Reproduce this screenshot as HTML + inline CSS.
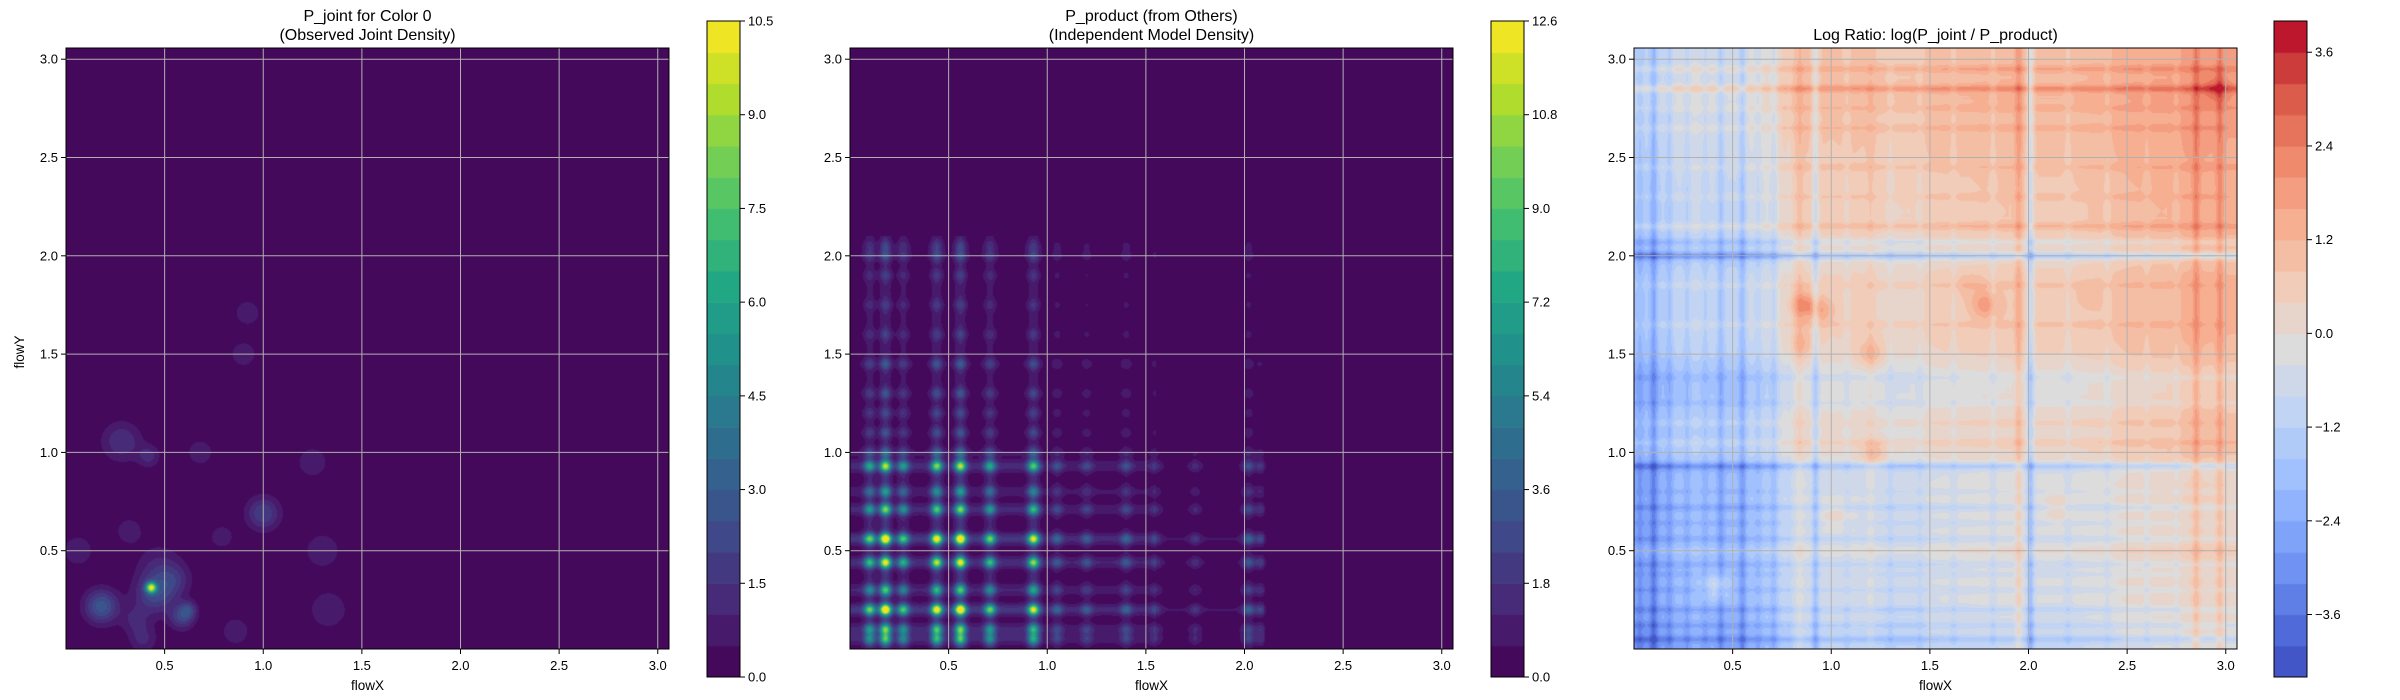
<!DOCTYPE html>
<html><head><meta charset="utf-8">
<style>
body{margin:0;background:#fff;width:2400px;height:700px;overflow:hidden;position:relative;font-family:"Liberation Sans","DejaVu Sans",sans-serif}
canvas{position:absolute}
svg{position:absolute;left:0;top:0}
</style></head>
<body>
<canvas id="c1" width="603" height="601" style="left:66px;top:48px"></canvas>
<canvas id="c2" width="603" height="601" style="left:850px;top:48px"></canvas>
<canvas id="c3" width="603" height="601" style="left:1634px;top:48px"></canvas>
<canvas id="b1" width="33" height="656" style="left:707px;top:21px"></canvas>
<canvas id="b2" width="33" height="656" style="left:1491px;top:21px"></canvas>
<canvas id="b3" width="33" height="656" style="left:2274px;top:21px"></canvas>
<svg id="ov" width="2400" height="700"></svg>
<script>
// ---- Panel 1 data: observed joint density blobs ----
const blobX   = [0.432,0.45,0.18,0.588,0.62,0.282,0.42,1.0,1.3,1.33,0.92,0.9,0.68,1.25,0.06,0.32,0.79,0.39,0.86,0.47,0.35,0.55];
const blobY   = [0.312,0.28,0.217,0.163,0.2,1.056,0.98,0.69,0.5,0.2,1.71,1.5,1.0,0.95,0.5,0.6,0.57,0.05,0.09,0.42,0.15,0.35];
const blobAmp = [8.5,2.2,2.8,2.0,1.6,1.5,1.2,2.0,0.9,1.0,0.9,0.9,0.9,0.9,0.9,0.9,0.8,1.1,1.0,1.0,1.0,1.2];
const blobSig = [0.018,0.07,0.06,0.045,0.03,0.07,0.04,0.06,0.07,0.07,0.05,0.05,0.05,0.06,0.06,0.05,0.05,0.05,0.05,0.08,0.05,0.06];
// ---- Panel 2 data: marginal peaks ----
const pxCenters = [0.10,0.18,0.27,0.44,0.56,0.71,0.93,1.05,1.2,1.4,1.55,1.75,2.02,2.08];
const pxHeights = [2.0,3.3,1.8,2.9,3.3,2.0,2.6,0.7,0.6,0.7,0.4,0.35,0.9,0.5];
const pyCenters = [0.05,0.10,0.20,0.30,0.44,0.56,0.71,0.80,0.93,1.0,1.1,1.2,1.3,1.45,1.6,1.75,1.9,2.0,2.05];
const pyHeights = [2.0,2.2,3.6,2.0,3.0,3.6,2.3,1.4,2.6,0.9,0.6,0.5,0.6,0.7,0.4,0.35,0.35,0.6,0.4];
// ---- Panel 3 data: log ratio column/row effects ----
const colBase = [-1.8,-1.8,-1.3,-1.1,-1.2,-1.3,-1.0,-0.7,0.1,0.2,0.1,0.2,0.1,0.0,0.0,0.2,0.3,0.3,0.4,0.4,0.3,0.3,0.3,0.4,0.5,0.7,0.8,0.8,1.0,1.0,0.9];
const rowBase = [-1.2,-0.9,-0.7,-0.6,-0.6,-0.5,-0.6,-0.6,-0.5,-0.7,0.0,-0.1,-0.1,-0.4,-0.4,0.1,0.3,0.3,0.3,0.3,-0.2,0.3,0.4,0.4,0.5,0.6,0.7,0.7,0.9,0.8,0.7];
const colStripePos = [0.03,0.1,0.18,0.27,0.36,0.44,0.55,0.63,0.71,0.79,0.92,1.08,1.3,1.45,1.62,1.82,1.95,2.01,2.2,2.4,2.6,2.75,2.85,2.97,0.84,1.2];
const colStripeAmp = [-0.5,-1.0,-0.6,-0.5,-0.4,-0.8,-1.0,-0.4,-0.6,-0.3,-1.2,-0.3,-0.3,-0.3,-0.3,-0.4,0.8,-1.4,-0.3,-0.3,-0.3,-0.3,0.8,0.8,0.4,0.3];
const rowStripePos = [0.05,0.12,0.2,0.3,0.38,0.43,0.56,0.64,0.72,0.8,0.93,1.15,1.25,1.38,1.65,1.85,2.0,2.07,2.15,2.3,2.45,2.65,2.75,2.85,2.95,1.05,0.5];
const rowStripeAmp = [-0.8,-0.5,-0.6,-0.4,-0.3,-0.5,-0.5,-0.3,-0.6,-0.3,-1.2,0.3,-0.3,-0.3,0.3,0.3,-1.4,-0.6,0.6,0.3,0.3,0.4,0.3,1.0,0.6,0.4,0.3];
const spotX = [0.86,0.95,1.78,1.2,1.22,0.42,1.02,2.15,0.85,2.95,1.7,2.3];
const spotY = [1.75,1.72,1.75,1.5,0.99,0.32,0.68,0.72,1.55,2.85,1.85,1.8];
const spotAmp = [1.5,1.0,1.2,1.0,1.0,1.2,0.8,0.8,0.8,1.0,0.4,0.3];
// ---- ticks ----
const axisTicks = [0.5,1.0,1.5,2.0,2.5,3.0];
const cb1Ticks = [0,1.5,3.0,4.5,6.0,7.5,9.0,10.5];
const cb2Ticks = [0,1.8,3.6,5.4,7.2,9.0,10.8,12.6];
const cb3Ticks = [-3.6,-2.4,-1.2,0.0,1.2,2.4,3.6];

const W=603,H=601,XMAX=3.057,YMAX=3.057;
function sx(v){return v/XMAX*W;}
function sy(v){return H - v/YMAX*H;}
function hex(h){return [parseInt(h.substr(1,2),16),parseInt(h.substr(3,2),16),parseInt(h.substr(5,2),16)];}
function mkmap(stops){const c=stops.map(hex);return t=>{t=Math.max(0,Math.min(1,t));const p=t*(c.length-1),i=Math.min(c.length-2,Math.floor(p)),f=p-i;return [0,1,2].map(k=>Math.round(c[i][k]+(c[i+1][k]-c[i][k])*f));};}
const viridis=mkmap(['#440154','#482475','#414487','#355f8d','#2a788e','#21918c','#22a884','#44bf70','#7ad151','#bddf26','#fde725']);
const coolwarm=mkmap(['#3b4cc0','#5977e3','#7b9ff9','#9ebeff','#c0d4f5','#dddcdc','#f2cbb7','#f7ac8e','#ee8468','#d65244','#b40426']);
function bandColor(map,v,lo,step){let b=Math.floor((v-lo)/step);b=Math.max(0,Math.min(20,b));return map((b+0.5)/21);}
function render(id,fn,map,lo,step){
  const cv=document.getElementById(id),ctx=cv.getContext('2d'),img=ctx.createImageData(W,H);
  for(let j=0;j<H;j++){const y=(H-j-0.5)/H*YMAX;for(let i=0;i<W;i++){const x=(i+0.5)/W*XMAX;const c=bandColor(map,fn(x,y,i,j),lo,step);const o=(j*W+i)*4;img.data[o]=c[0];img.data[o+1]=c[1];img.data[o+2]=c[2];img.data[o+3]=255;}}
  ctx.putImageData(img,0,0);
}
function g(d,s){return Math.exp(-d*d/(2*s*s));}
// Panel 1
render('c1',(x,y)=>{let s=0;for(let k=0;k<blobX.length;k++){const dx=x-blobX[k],dy=y-blobY[k];s+=blobAmp[k]*Math.exp(-(dx*dx+dy*dy)/(2*blobSig[k]*blobSig[k]));}return s;},viridis,0,0.5);
// Panel 2
const PX=new Float32Array(W),PY=new Float32Array(H);
for(let i=0;i<W;i++){const x=(i+0.5)/W*XMAX;let s=x<0.98?0.5:(x<1.55?0.35:(x<2.1?0.15:0));for(let k=0;k<pxCenters.length;k++)s+=pxHeights[k]*g(x-pxCenters[k],0.02);PX[i]=s;}
for(let j=0;j<H;j++){const y=(H-j-0.5)/H*YMAX;let s=y<1.0?0.5:(y<2.1?0.3:0);for(let k=0;k<pyCenters.length;k++)s+=pyHeights[k]*g(y-pyCenters[k],0.02);PY[j]=s;}
render('c2',(x,y,i,j)=>PX[i]*PY[j],viridis,0,0.6);
// Panel 3
function interp(arr,v){const p=v/0.1,i=Math.max(0,Math.min(arr.length-2,Math.floor(p))),f=Math.min(1,p-i);return arr[i]+(arr[i+1]-arr[i])*f;}
const CX=new Float32Array(W),RY=new Float32Array(H);
for(let i=0;i<W;i++){const x=(i+0.5)/W*XMAX;let s=interp(colBase,x);for(let k=0;k<colStripePos.length;k++)s+=colStripeAmp[k]*g(x-colStripePos[k],0.013);CX[i]=s;}
for(let j=0;j<H;j++){const y=(H-j-0.5)/H*YMAX;let s=interp(rowBase,y);for(let k=0;k<rowStripePos.length;k++)s+=rowStripeAmp[k]*g(y-rowStripePos[k],0.013);RY[j]=s;}
render('c3',(x,y,i,j)=>{let s=CX[i]+RY[j];for(let k=0;k<spotX.length;k++){const dx=x-spotX[k],dy=y-spotY[k];s+=spotAmp[k]*Math.exp(-(dx*dx+dy*dy)/(2*0.05*0.05));}return s;},coolwarm,-4.4,0.4);
// Colorbars
function cbar(id,map){const cv=document.getElementById(id),ctx=cv.getContext('2d');const h=656/21;for(let b=0;b<21;b++){const c=map((b+0.5)/21);ctx.fillStyle=`rgb(${c[0]},${c[1]},${c[2]})`;ctx.fillRect(0,656-(b+1)*h,33,h+0.6);}}
cbar('b1',viridis);cbar('b2',viridis);cbar('b3',coolwarm);

// Overlay
const NS='http://www.w3.org/2000/svg',ov=document.getElementById('ov');
function el(tag,attrs,txt){const e=document.createElementNS(NS,tag);for(const k in attrs)e.setAttribute(k,attrs[k]);if(txt!==undefined)e.textContent=txt;ov.appendChild(e);return e;}
const panels=[{L:66,t1:'P_joint for Color 0',t2:'(Observed Joint Density)',cb:707,ticks:cb1Ticks,lo:0,hi:10.5,n:'joint'},
{L:850,t1:'P_product (from Others)',t2:'(Independent Model Density)',cb:1491,ticks:cb2Ticks,lo:0,hi:12.6,n:'product'},
{L:1634,t1:null,t2:'Log Ratio: log(P_joint / P_product)',cb:2274,ticks:cb3Ticks,lo:-4.4,hi:4.0,n:'log-ratio'}];
const T=48;
panels.forEach((p,pi)=>{
  axisTicks.forEach(v=>{
    const gx=el('line',{x1:p.L+sx(v),x2:p.L+sx(v),y1:T,y2:T+H,stroke:'#b0b0b0','stroke-width':1});
    
    const gy=el('line',{x1:p.L,x2:p.L+W,y1:T+sy(v),y2:T+sy(v),stroke:'#b0b0b0','stroke-width':1});
    
    el('line',{x1:p.L+sx(v),x2:p.L+sx(v),y1:T+H,y2:T+H+5,stroke:'#000'});
    el('line',{x1:p.L-5,x2:p.L,y1:T+sy(v),y2:T+sy(v),stroke:'#000'});
    const xl=el('text',{x:p.L+sx(v),y:T+H+21,'text-anchor':'middle','font-size':13},v.toFixed(1));
    
    const yl=el('text',{x:p.L-8,y:T+sy(v)+4.5,'text-anchor':'end','font-size':13},v.toFixed(1));
    
  });
  const fr=el('rect',{x:p.L,y:T,width:W,height:H,fill:'none',stroke:'#000','stroke-width':1});
  
  const xt=el('text',{x:p.L+W/2,y:690,'text-anchor':'middle','font-size':13.5},'flowX');
  
  const cx=p.L+W/2;
  if(p.t1){const a=el('text',{x:cx,y:21,'text-anchor':'middle','font-size':16},p.t1);}
  const b=el('text',{x:cx,y:40,'text-anchor':'middle','font-size':16},p.t2);
  
  el('rect',{x:p.cb,y:21,width:33,height:656,fill:'none',stroke:'#000','stroke-width':1});
  p.ticks.forEach(v=>{
    const y=21+656-(v-p.lo)/(p.hi-p.lo)*656;
    el('line',{x1:p.cb+33,x2:p.cb+38,y1:y,y2:y,stroke:'#000'});
    const t=el('text',{x:p.cb+41,y:y+4.5,'font-size':13},v.toFixed(1).replace('-','\u2212'));
    
  });
});
const yt=el('text',{x:24,y:352,'text-anchor':'middle','font-size':13.5,transform:'rotate(-90 24 352)'},'flowY');

</script>
</body></html>
